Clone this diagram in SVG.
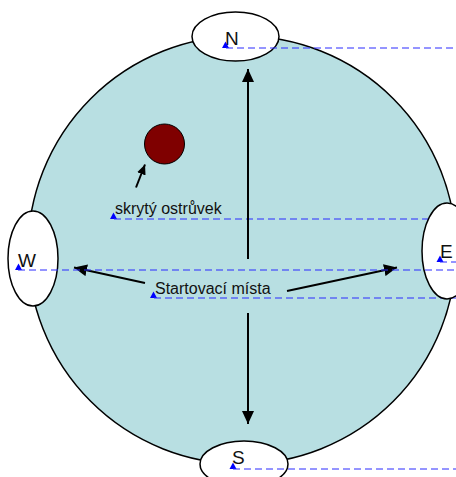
<svg xmlns="http://www.w3.org/2000/svg" width="456" height="477" viewBox="0 0 456 477">
<defs>
<style>
.lbl{font-family:"Liberation Sans",Arial,sans-serif;font-size:16px;fill:#111}
.big{font-family:"Liberation Sans",Arial,sans-serif;font-size:19px;fill:#111}
.ell{fill:#fff;stroke:#000;stroke-width:1.5}
.dash{stroke:#2a2aff;stroke-width:1;stroke-dasharray:7,4;fill:none}
.tri{fill:#0000ff}
.arr{stroke:#000;stroke-width:2;fill:none;marker-end:url(#ah)}
</style>
<marker id="ah" markerUnits="userSpaceOnUse" markerWidth="14" markerHeight="12" refX="13" refY="6" orient="auto">
<path d="M0,0 L13,6 L0,12 z" fill="#000"/>
</marker>
<marker id="ahs" markerUnits="userSpaceOnUse" markerWidth="11" markerHeight="9" refX="10" refY="4.5" orient="auto">
<path d="M0,0 L10,4.5 L0,9 z" fill="#000"/>
</marker>
</defs>
<g id="world">
<circle cx="242" cy="250" r="214" fill="#b8dfe2" stroke="#000" stroke-width="1.5"/>
</g>
<g id="island">
<circle cx="164.5" cy="144" r="20" fill="#7f0000" stroke="#000" stroke-width="1"/>
</g>
<g id="label-island">
<text class="lbl" x="115" y="214">skrytý ostrůvek</text>
<path class="tri" d="M110,219 L113.5,212.5 L117,219 z"/>
<line class="dash" x1="114" y1="219" x2="456" y2="219"/>
</g>
<g id="label-start">
<text class="lbl" x="155" y="294">Startovací místa</text>
<path class="tri" d="M150,298 L153.5,291.5 L157,298 z"/>
<line class="dash" x1="154" y1="298" x2="456" y2="298"/>
</g>
<g id="connectors">
<line class="arr" x1="248" y1="259" x2="248" y2="69"/>
<line class="arr" x1="248" y1="313" x2="248" y2="424"/>
<line class="arr" x1="145" y1="283" x2="74" y2="267.5"/>
<line class="arr" x1="287" y1="291" x2="397" y2="267.5"/>
<line stroke="#000" stroke-width="2" x1="136" y1="187.5" x2="145" y2="164.5" marker-end="url(#ahs)"/>
</g>
<g id="E">
<ellipse class="ell" cx="447" cy="251" rx="25" ry="48"/>
<text class="big" x="440" y="258">E</text>
<path class="tri" d="M436.5,262 L440,255.5 L443.5,262 z"/>
<line class="dash" x1="440" y1="262" x2="456" y2="262"/>
</g>
<g id="W">
<ellipse class="ell" cx="33" cy="258.5" rx="25" ry="47.5"/>
<text class="big" x="18" y="267">W</text>
<path class="tri" d="M15,270 L18.5,263.5 L22,270 z"/>
<line class="dash" x1="18" y1="270" x2="456" y2="270"/>
</g>
<g id="N">
<ellipse class="ell" cx="235.5" cy="36.5" rx="43.5" ry="24.5"/>
<text class="big" x="225" y="45">N</text>
<path class="tri" d="M222,48 L225.5,41.5 L229,48 z"/>
<line class="dash" x1="226" y1="48" x2="456" y2="48"/>
</g>
<g id="S">
<ellipse class="ell" cx="244" cy="464" rx="44" ry="23"/>
<text class="big" x="232" y="464">S</text>
<path class="tri" d="M229.5,469 L233,462.5 L236.5,469 z"/>
<line class="dash" x1="233" y1="469" x2="456" y2="469"/>
</g>
</svg>
